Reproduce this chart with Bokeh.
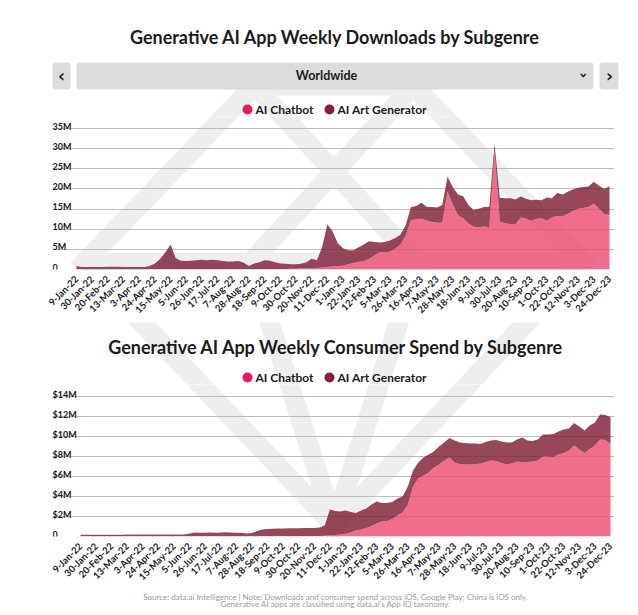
import math
from bokeh.plotting import figure
from bokeh.layouts import column
from bokeh.models import Range1d, FixedTicker, ColumnDataSource, BoxAnnotation
from bokeh.core.properties import value
from bokeh.embed import file_html
from bokeh.resources import INLINE

FONT = "Lato"
TXT = "#1b1b1b"
PINK = "#e8185e"
MAROON = "#8b1a3c"
PINK_AREA = "#ea4a6f"
MAROON_AREA = "#7c1a31"
AREA_ALPHA = 0.8
GRID = "#bcbcbc"
WATERMARK = "#eeeeee"

# ---------------- data ----------------
week_labels = ["9-Jan-22", "30-Jan-22", "20-Feb-22", "13-Mar-22", "3-Apr-22", "24-Apr-22",
               "15-May-22", "5-Jun-22", "26-Jun-22", "17-Jul-22", "7-Aug-22", "28-Aug-22",
               "18-Sep-22", "9-Oct-22", "30-Oct-22", "20-Nov-22", "11-Dec-22", "1-Jan-23",
               "22-Jan-23", "12-Feb-23", "5-Mar-23", "26-Mar-23", "16-Apr-23", "7-May-23",
               "28-May-23", "18-Jun-23", "9-Jul-23", "30-Jul-23", "20-Aug-23", "10-Sep-23",
               "1-Oct-23", "22-Oct-23", "12-Nov-23", "3-Dec-23", "24-Dec-23"]
series_names = ["AI Chatbot", "AI Art Generator"]

# weekly downloads, millions
dl_chatbot = [0.05, 0.05, 0.05, 0.05, 0.05, 0.05, 0.05, 0.05, 0.05, 0.05, 0.05, 0.05, 0.05, 0.05,
              0.05, 0.05, 0.05, 0.05, 0.05, 0.05, 0.05,
              0.1, 0.1, 0.1, 0.1, 0.1, 0.1, 0.1, 0.1, 0.1, 0.1, 0.1, 0.1, 0.1, 0.1, 0.1, 0.1, 0.1,
              0.1, 0.1, 0.1,
              0.2, 0.2, 0.3, 0.3, 0.3, 0.4, 0.5, 0.6, 0.8, 0.9, 1.0, 1.3, 1.6, 1.9, 2.2, 2.7, 3.5,
              4.3, 4.3, 4.4, 5.2, 6.2, 8.5, 12.3, 12.4, 12.6, 12.2, 11.8, 11.6, 11.6, 19.3, 16.2,
              13.5, 12.7, 11.5, 10.6, 10.5, 10.7, 10.3, 29.8, 11.9, 11.5, 11.3, 11.2, 12.9, 12.6,
              12.1, 12.6, 12.7, 12.1, 13.0, 13.3, 13.2, 13.8, 14.5, 15.1, 15.3, 15.6, 16.4, 15.0,
              13.8, 13.6]
dl_art = [0.85, 0.55, 0.55, 0.55, 0.55, 0.6, 0.65, 0.65, 0.65, 0.6, 0.55, 0.55, 0.55, 0.55, 0.85,
          1.45, 2.55, 4.15, 6.15, 2.75, 2.15,
          2.0, 2.1, 2.2, 2.3, 2.2, 2.3, 2.2, 2.0, 1.9, 1.9, 2.0, 1.6, 0.8, 1.4, 1.7, 2.2, 2.1, 1.7,
          1.4, 1.3,
          1.1, 1.1, 1.1, 1.5, 2.4, 1.9, 5.0, 10.6, 8.7, 5.6, 4.3, 3.5, 3.2, 3.6, 4.0, 4.3, 3.3,
          2.4, 2.5, 2.8, 2.6, 2.4,
          2.5, 3.2, 3.4, 4.0, 3.4, 3.7, 3.8, 4.4, 3.8, 4.3, 5.1, 5.5, 4.5, 4.2, 4.6, 4.8, 5.3,
          1.5, 5.9, 6.2, 6.4, 6.2, 5.2, 5.0, 5.1, 4.7, 4.5, 5.8, 4.7, 5.7, 5.4, 5.5, 5.4, 5.2,
          5.2, 5.0, 5.4, 5.8, 6.2, 7.1]

# weekly consumer spend, $ millions
sp_chatbot = [0.03, 0.03, 0.03, 0.03, 0.03, 0.03, 0.03, 0.03, 0.03, 0.03, 0.03, 0.03, 0.03, 0.03,
              0.03, 0.03, 0.03, 0.03, 0.03, 0.03, 0.03, 0.03, 0.03, 0.03, 0.03, 0.03, 0.03, 0.03,
              0.03, 0.03, 0.03, 0.03, 0.03, 0.03, 0.03,
              0.04, 0.04, 0.04, 0.04, 0.04, 0.05, 0.05, 0.05, 0.05, 0.05, 0.06, 0.06,
              0.08, 0.12, 0.15, 0.2, 0.27, 0.4, 0.6, 0.7, 0.85, 1.05, 1.3, 1.5, 1.55, 1.75, 2.1,
              2.4, 3.2, 5.0, 5.8, 6.1, 6.4, 6.9, 7.2, 7.6, 7.9, 7.4, 7.25, 7.2, 7.2, 7.2, 7.3,
              7.45, 7.6, 7.55, 7.35, 7.2, 7.3, 7.5, 7.45, 7.45, 7.5, 7.6, 8.0, 8.0, 7.95, 8.2,
              8.35, 8.6, 9.1, 8.7, 8.35, 8.75, 9.1, 9.7, 9.65, 9.25]
sp_art = [0.14, 0.14, 0.14, 0.14, 0.14, 0.14, 0.14, 0.14, 0.14,
          0.17, 0.17, 0.17, 0.17, 0.17, 0.17, 0.17, 0.17, 0.17, 0.17, 0.17, 0.17,
          0.27, 0.37, 0.35, 0.35, 0.37, 0.35, 0.37, 0.39, 0.37, 0.35, 0.35,
          0.27, 0.32, 0.52, 0.66, 0.71, 0.74, 0.76, 0.76, 0.77, 0.78, 0.78, 0.79, 0.8, 0.8, 0.84,
          1.02, 2.58, 2.4, 2.3, 2.33, 2.05, 1.75, 1.9, 1.95, 2.15, 2.2, 1.85, 1.8, 1.7, 1.7, 1.6,
          1.8, 1.6, 1.6, 1.8, 1.8, 1.6, 1.8, 1.8, 1.95, 2.2, 2.15, 2.15, 2.1, 2.1, 1.95, 2.0,
          2.0, 2.1, 2.15, 2.2, 2.1, 2.2, 2.45, 2.15, 2.05, 2.1, 2.2, 2.2, 2.3, 2.3, 2.35, 2.2,
          2.25, 2.3, 2.25, 2.35, 2.3, 2.5, 2.5, 2.7]

dl_ticks = [0, 5, 10, 15, 20, 25, 30, 35]
dl_tick_labels = ["0", "5M", "10M", "15M", "20M", "25M", "30M", "35M"]
sp_ticks = [0, 2, 4, 6, 8, 10, 12, 14]
sp_tick_labels = ["0", "$2M", "$4M", "$6M", "$8M", "$10M", "$12M", "$14M"]

titles = ["Generative AI App Weekly Downloads by Subgenre",
          "Generative AI App Weekly Consumer Spend by Subgenre"]
region = "Worldwide"
source_lines = ["Source: data.ai Intelligence | Note: Downloads and consumer spend across iOS, Google Play; China is iOS only.",
                "Generative AI apps are classified using data.ai's App IQ taxonomy."]

weeks = list(range(len(dl_chatbot)))
week_ticks = weeks[::3]

W = 638

# background watermark (a faint gem outline), page-pixel decoration paths
wm_xs = [[84, 254, 413, 583, 334, 84, 254],
         [84, 583],
         [254, 417, 334, 250, 413]]
wm_ys = [[262, 85, 85, 262, 525, 262, 85],
         [262, 262],
         [85, 262, 525, 262, 85]]


def watermark(p, **kw):
    p.multi_line(xs=wm_xs, ys=wm_ys, line_width=20, line_color=WATERMARK,
                 line_join="miter", line_cap="butt", level="image", **kw)


def deco(top, bottom):
    """A text/decoration strip whose data coordinates are page pixels."""
    p = figure(width=W, height=bottom - top, x_range=Range1d(0, W),
               y_range=Range1d(bottom, top), output_backend="svg", toolbar_location=None,
               x_axis_location=None, y_axis_location=None, frame_align=False,
               min_border=0, min_border_left=0, min_border_right=0,
               min_border_top=0, min_border_bottom=0)
    p.grid.visible = False
    p.outline_line_color = None
    watermark(p)
    return p


def legend(p, y):
    p.scatter(x=[247, 329], y=[y, y], size=10, color=[PINK, MAROON], line_color=None)
    p.text(x=[255, 337], y=[y, y], text=series_names, text_font=value(FONT),
           text_font_style="bold", text_font_size="12px", text_color=TXT,
           text_align="left", text_baseline="middle")


def title(p, x, y, t):
    p.text(x=[x], y=[y], text=[t], text_font=value(FONT), text_font_style="bold",
           text_font_size="18px", text_color=TXT, text_align="center", text_baseline="middle")


def chart(top, height, bottom, y_end, x_start, x_end, chat, art, yticks, ylabels):
    src = ColumnDataSource(dict(week=weeks, chat=chat, art=art))
    frame_bottom = top + height - bottom
    p = figure(width=W, height=height, x_range=Range1d(x_start, x_end),
               y_range=Range1d(0, y_end), output_backend="svg", toolbar_location=None,
               y_axis_location=None, frame_align=False, min_border_left=52,
               min_border_right=24, min_border_top=0, min_border_bottom=bottom)
    p.extra_x_ranges = {"px": Range1d(52, 614)}
    p.extra_y_ranges = {"py": Range1d(frame_bottom, top)}
    watermark(p, x_range_name="px", y_range_name="py")
    p.outline_line_color = None
    p.xgrid.visible = False
    p.ygrid.ticker = FixedTicker(ticks=yticks)
    p.ygrid.grid_line_color = GRID
    p.ygrid.grid_line_width = 1
    p.varea_stack(["chat", "art"], x="week", source=src,
                  color=[PINK_AREA, MAROON_AREA], fill_alpha=AREA_ALPHA)
    p.text(x=[x_start] * len(yticks), y=yticks, text=ylabels, y_offset=-2.5,
           text_font=value(FONT), text_font_style="bold", text_font_size="9px",
           text_color=TXT, text_align="left", text_baseline="alphabetic")
    ax = p.xaxis[0]
    ax.ticker = FixedTicker(ticks=week_ticks)
    ax.major_label_overrides = {t: lab for t, lab in zip(week_ticks, week_labels)}
    ax.major_label_orientation = math.pi / 4
    ax.axis_line_color = None
    ax.major_tick_line_color = None
    ax.minor_tick_line_color = None
    ax.major_label_standoff = 2
    ax.major_label_text_font = FONT
    ax.major_label_text_font_style = "bold"
    ax.major_label_text_font_size = "9.5px"
    ax.major_label_text_color = TXT
    return p


# header 1: title, region selector, legend (page y 0..116)
h1 = deco(0, 116)
title(h1, 335, 36, titles[0])
for l, r in [(52, 70), (76, 593), (599, 618)]:
    h1.add_layout(BoxAnnotation(left=l, right=r, top=62, bottom=89, fill_color="#dcdcdc",
                                fill_alpha=1, line_color=None, border_radius=3,
                                level="underlay"))
h1.text(x=[61, 609], y=[75, 75], text=["‹", "›"], text_font=value("DejaVu Sans"),
        text_font_style="bold", text_font_size="17px", text_color=TXT,
        text_align="center", text_baseline="middle")
h1.text(x=[583], y=[75], text=["›"], angle=-math.pi / 2, text_font=value("DejaVu Sans"),
        text_font_style="bold", text_font_size="14px", text_color=TXT,
        text_align="center", text_baseline="middle")
h1.text(x=[326], y=[75], text=[region], text_font=value(FONT), text_font_style="bold",
        text_font_size="12.5px", text_color=TXT, text_align="center", text_baseline="middle")
legend(h1, 109)

# chart 1 (page y 116..322, frame 116..269)
c1 = chart(116, 206, 53, 38.0, -4.593, 102.957, dl_chatbot, dl_art, dl_ticks, dl_tick_labels)

# header 2 (page y 322..384)
h2 = deco(322, 384)
title(h2, 336, 346, titles[1])
legend(h2, 377)

# chart 2 (page y 384..592, frame 384..536)
c2 = chart(384, 208, 56, 15.2, -5.39, 102.77, sp_chatbot, sp_art, sp_ticks, sp_tick_labels)

# footer (page y 592..610)
foot = deco(592, 610)
foot.text(x=[335, 335], y=[596.5, 603.5], text=source_lines, text_font=value(FONT),
          text_font_size="8px", text_color="#9a9a9a", text_align="center",
          text_baseline="middle")

layout = column(h1, c1, h2, c2, foot, spacing=0)
open("out.html", "w").write(file_html(layout, INLINE))
